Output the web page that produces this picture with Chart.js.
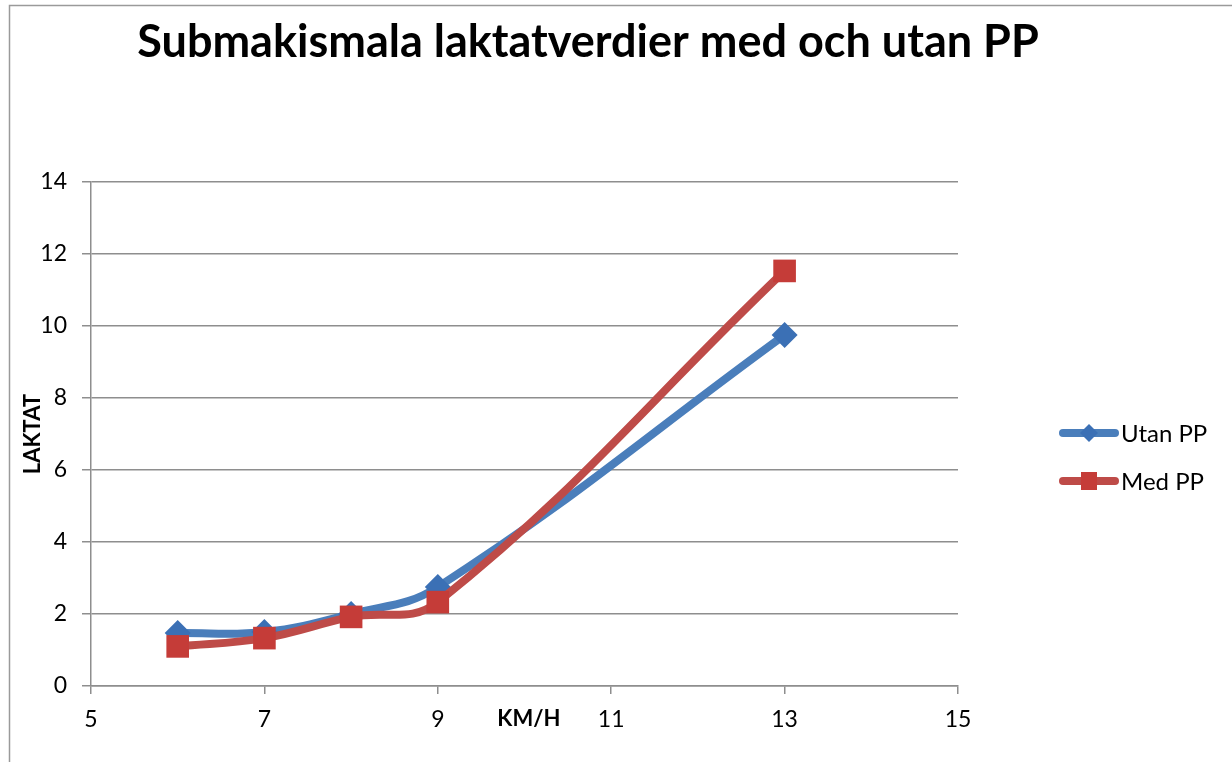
<!DOCTYPE html>
<html>
<head>
<meta charset="utf-8">
<script src="https://cdn.jsdelivr.net/npm/chart.js@4"></script>
<style>
  html, body { margin: 0; padding: 0; background: #fff; }
  #wrap { width: 1232px; height: 762px; }
</style>
</head>
<body>
<div id="wrap"><canvas id="chart" width="1232" height="762"></canvas></div>
<script>
const titleText = 'Submakismala laktatverdier med och utan PP';
const xTitle = 'KM/H';
const yTitle = 'LAKTAT';

const speeds = [6, 7, 8, 9, 13];
const utanPP = [1.47, 1.5, 2.0, 2.75, 9.75];
const medPP = [1.1, 1.33, 1.92, 2.33, 11.53];

const seriesNames = ['Utan PP', 'Med PP'];
const seriesColors = ['#4a7ebb', '#be4b48'];
const markerColors = ['#3b70b5', '#c53c38'];

const FONT = 'Lato, Carlito, "Open Sans", sans-serif';
const GRID = '#8e8e8e';

/* ===== decorations: frame, title, legend, x title ===== */

const decor = {
  id: 'decor',
  beforeDraw(chart) {
    const ctx = chart.ctx;
    ctx.save();
    ctx.strokeStyle = '#9a9a9a';
    ctx.lineWidth = 1.5;
    ctx.strokeRect(9.5, 5.5, 1400, 900);
    ctx.restore();
  },
  afterDraw(chart) {
    const ctx = chart.ctx;
    ctx.save();

    ctx.fillStyle = '#000';
    ctx.font = 'bold 45px ' + FONT;
    ctx.textAlign = 'center';
    ctx.textBaseline = 'alphabetic';
    ctx.fillText(titleText, 588, 57);

    // x axis title sits in the tick label row
    const xs = chart.scales.x;
    ctx.font = 'bold 22px ' + FONT;
    ctx.textBaseline = 'middle';
    ctx.fillText(xTitle, xs.getPixelForValue(10.05), 719);

    // legend
    chart.data.datasets.forEach((ds, i) => {
      const y = 433 + i * 48;
      ctx.strokeStyle = seriesColors[i];
      ctx.lineWidth = 8;
      ctx.lineCap = 'round';
      ctx.beginPath();
      ctx.moveTo(1063, y);
      ctx.lineTo(1115, y);
      ctx.stroke();
      ctx.fillStyle = markerColors[i];
      if (i === 0) {
        ctx.beginPath();
        ctx.moveTo(1089, y - 9);
        ctx.lineTo(1098, y);
        ctx.lineTo(1089, y + 9);
        ctx.lineTo(1080, y);
        ctx.closePath();
        ctx.fill();
      } else {
        ctx.fillRect(1081, y - 9, 16, 18);
      }
      ctx.fillStyle = '#000';
      ctx.font = '24px ' + FONT;
      ctx.textAlign = 'left';
      ctx.textBaseline = 'middle';
      ctx.fillText(ds.label, 1121, y + 1);
    });

    ctx.restore();
  }
};

/* ===== chart ===== */

const toPoints = arr => speeds.map((s, i) => ({ x: s, y: arr[i] }));

new Chart(document.getElementById('chart'), {
  type: 'line',
  data: {
    datasets: [
      {
        label: seriesNames[0],
        data: toPoints(utanPP),
        borderColor: seriesColors[0],
        backgroundColor: markerColors[0],
        borderWidth: 8,
        tension: 0.4,
        pointStyle: 'rectRot',
        pointRadius: 13,
        pointBorderWidth: 0,
        order: 1
      },
      {
        label: seriesNames[1],
        data: toPoints(medPP),
        borderColor: seriesColors[1],
        backgroundColor: markerColors[1],
        borderWidth: 8,
        tension: 0.4,
        pointStyle: 'rect',
        pointRadius: 16,
        pointBorderWidth: 0,
        order: 0
      }
    ]
  },
  options: {
    responsive: false,
    animation: false,
    layout: { padding: { top: 182, right: 274, bottom: 0, left: 0 } },
    plugins: {
      legend: { display: false },
      title: { display: false },
      tooltip: { enabled: false }
    },
    scales: {
      x: {
        type: 'linear',
        min: 5,
        max: 15,
        afterFit: s => { s.height = 76; },
        ticks: {
          stepSize: 2,
          color: '#000',
          padding: 12,
          font: { family: FONT, size: 23 }
        },
        grid: {
          drawOnChartArea: false,
          drawTicks: true,
          tickLength: 8,
          color: GRID,
          lineWidth: 1.5
        },
        border: { display: true, color: GRID, width: 1.5 }
      },
      y: {
        min: 0,
        max: 14,
        afterFit: s => { s.width = 91; },
        ticks: {
          stepSize: 2,
          color: '#000',
          padding: 15,
          font: { family: FONT, size: 23 }
        },
        grid: {
          color: GRID,
          lineWidth: 1.5,
          tickLength: 9
        },
        border: { display: true, color: GRID, width: 1.5 },
        title: {
          display: true,
          text: yTitle,
          color: '#000',
          font: { family: FONT, size: 22, weight: 'bold' },
          padding: { top: 20, bottom: 0 }
        }
      }
    }
  },
  plugins: [decor]
});
</script>
</body>
</html>
